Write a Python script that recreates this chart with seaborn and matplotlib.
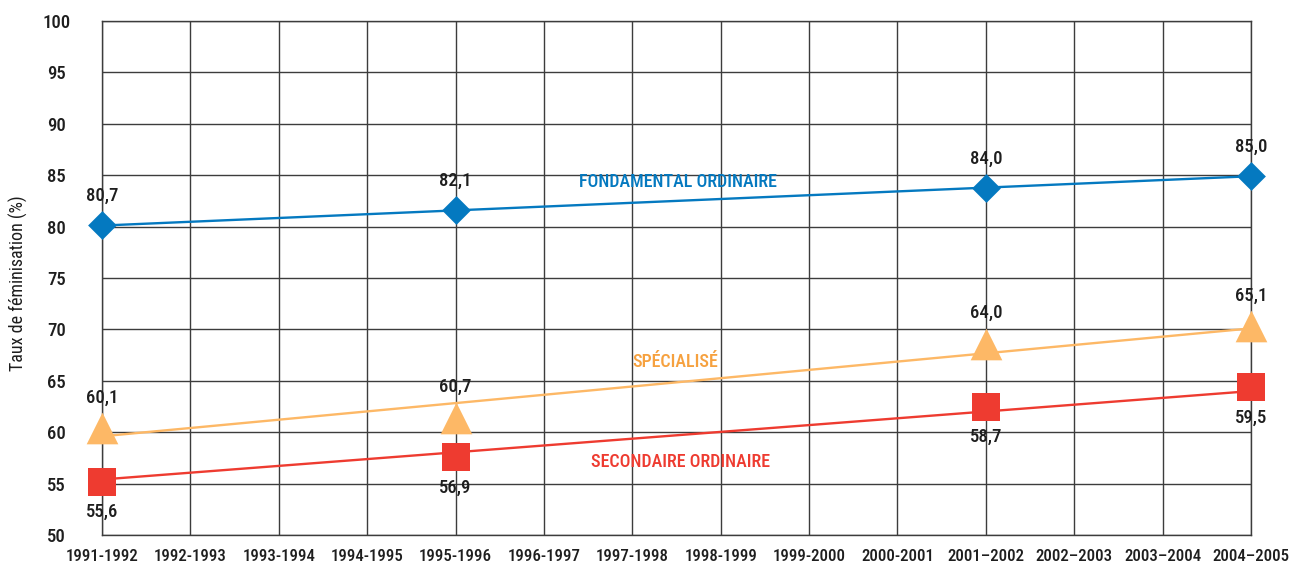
import matplotlib
matplotlib.use("Agg")
import matplotlib.pyplot as plt
import seaborn as sns
import pandas as pd
from matplotlib import font_manager

# ---------------- data ----------------
periods = ["1991-1992", "1992-1993", "1993-1994", "1994-1995", "1995-1996",
           "1996-1997", "1997-1998", "1998-1999", "1999-2000", "2000-2001",
           "2001–2002", "2002–2003", "2003–2004", "2004–2005"]

point_periods = ["1991-1992", "1995-1996", "2001–2002", "2004–2005"]

fondamental_values = [80.2, 81.6, 83.8, 84.9]
fondamental_labels = ["80,7", "82,1", "84,0", "85,0"]

specialise_values = [60.4, 61.4, 68.6, 70.3]
specialise_labels = ["60,1", "60,7", "64,0", "65,1"]

secondaire_values = [55.2, 57.6, 62.5, 64.35]
secondaire_labels = ["55,6", "56,9", "58,7", "59,5"]

trend_periods = ["1991-1992", "2004–2005"]
fondamental_trend = [80.1, 84.9]
specialise_trend = [59.6, 70.1]
secondaire_trend = [55.4, 64.0]

series_names = ["FONDAMENTAL ORDINAIRE", "SPÉCIALISÉ", "SECONDAIRE ORDINAIRE"]
y_ticks = [50, 55, 60, 65, 70, 75, 80, 85, 90, 95, 100]
y_label = "Taux de féminisation (%)"

# ---------------- style ----------------
sns.set_style("white")
available = {f.name for f in font_manager.fontManager.ttflist}
base = "DejaVu Sans"
for fam in ["Liberation Sans Narrow", "Roboto Condensed", "DejaVu Sans Condensed"]:
    if fam in available:
        base = fam
        break
plt.rcParams["font.family"] = [base, "DejaVu Sans"]
plt.rcParams["font.weight"] = 500

BLUE = "#0479C0"
ORANGE = "#FDB866"
ORANGE_TXT = "#F6A13F"
RED = "#EE3B30"
GRID = "#3c3c3c"
TXT = "#1e1e1e"

fig = plt.figure(figsize=(12.92, 5.71), dpi=100)
ax = fig.add_axes([102 / 1292, 36 / 571, 1149 / 1292, 514 / 571])

xpos = {p: i for i, p in enumerate(periods)}

def frame(values, per):
    return pd.DataFrame({"x": [xpos[p] for p in per], "y": values})

series = [
    (fondamental_values, fondamental_labels, fondamental_trend, BLUE, "D", 215, 21),
    (specialise_values, specialise_labels, specialise_trend, ORANGE, "^", 520, 22),
    (secondaire_values, secondaire_labels, secondaire_trend, RED, "s", 430, -22),
]

for vals, labs, trend, col, mk, size, off in series:
    sns.lineplot(data=frame(trend, trend_periods), x="x", y="y", ax=ax,
                 color=col, linewidth=1.7, zorder=3)
    sns.scatterplot(data=frame(vals, point_periods), x="x", y="y", ax=ax,
                    marker=mk, s=size, color=col, linewidth=0, zorder=4,
                    clip_on=False)
    for p, v, t in zip(point_periods, vals, labs):
        ax.annotate(t, (xpos[p], v), xytext=(0, off), textcoords="offset points",
                    ha="center", va="center", fontsize=13.5, color=TXT)

# series names
ax.text(6.52, 84.3, series_names[0], color=BLUE, fontsize=13, ha="center", va="center")
ax.text(6.49, 66.8, series_names[1], color=ORANGE_TXT, fontsize=13, ha="center", va="center")
ax.text(6.54, 57.1, series_names[2], color=RED, fontsize=13, ha="center", va="center")

ax.set_xlim(0, len(periods) - 1)
ax.set_ylim(50, 100)
ax.set_xticks(range(len(periods)))
ax.set_xticklabels(periods, fontsize=12.2)
ax.set_yticks(y_ticks)
ax.set_yticklabels([str(v) for v in y_ticks], fontsize=13.5, ha="center")
ax.tick_params(axis="y", length=0, pad=33)
ax.tick_params(axis="x", length=0, pad=10)
ax.grid(True, color=GRID, linewidth=1)
ax.set_axisbelow(True)
for s in ax.spines.values():
    s.set_visible(True)
    s.set_color(GRID)
    s.set_linewidth(1)

ax.set_xlabel("")
ax.set_ylabel(y_label, fontsize=13, color=TXT)
ax.yaxis.set_label_coords(-0.064, 0.49)
for t in ax.get_xticklabels() + ax.get_yticklabels():
    t.set_color(TXT)

fig.savefig("out.png", dpi=100)
